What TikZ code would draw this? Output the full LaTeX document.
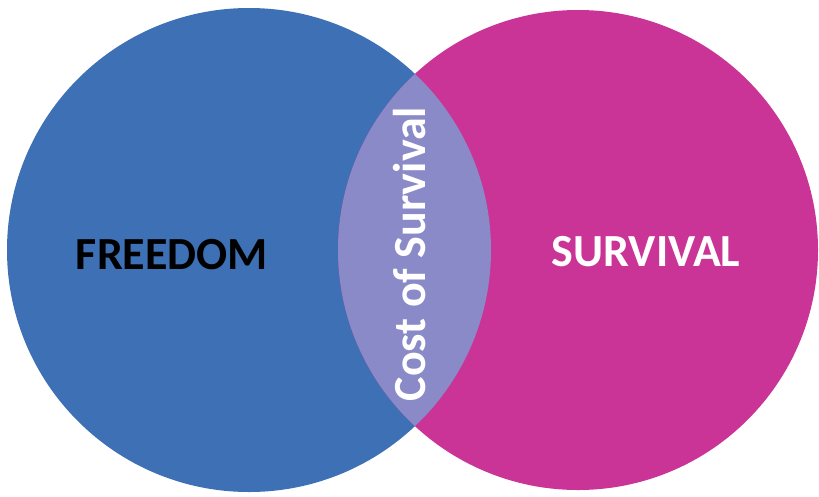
\documentclass[tikz,border=0pt]{standalone}
\usepackage{fontspec}
\setmainfont{Carlito}
\definecolor{freeblue}{RGB}{61,112,180}
\definecolor{survmag}{RGB}{202,52,150}
\definecolor{costlav}{RGB}{138,138,200}

\begin{document}
\begin{tikzpicture}[x=1pt, y=-1pt,
    label/.style = {font=\bfseries\fontsize{46}{46}\selectfont, inner sep=0pt}]

   \useasboundingbox (0,0) rectangle (819,496);

   %circles
   \fill[freeblue] (249,250) circle (242);
   \fill[survmag] (578,250) circle (240);
   %overlap
   \begin{scope}
     \clip (249,250) circle (242);
     \fill[costlav] (578,250) circle (240);
   \end{scope}

   %labels
   \node[label, text=black] (freedom) at (172,255) {FREEDOM};
   \node[label, text=white] (survival) at (646,252) {SURVIVAL};
   \node[label, text=white, rotate=90] (cost) at (410,254) {Cost of Survival};

\end{tikzpicture}
\end{document}
